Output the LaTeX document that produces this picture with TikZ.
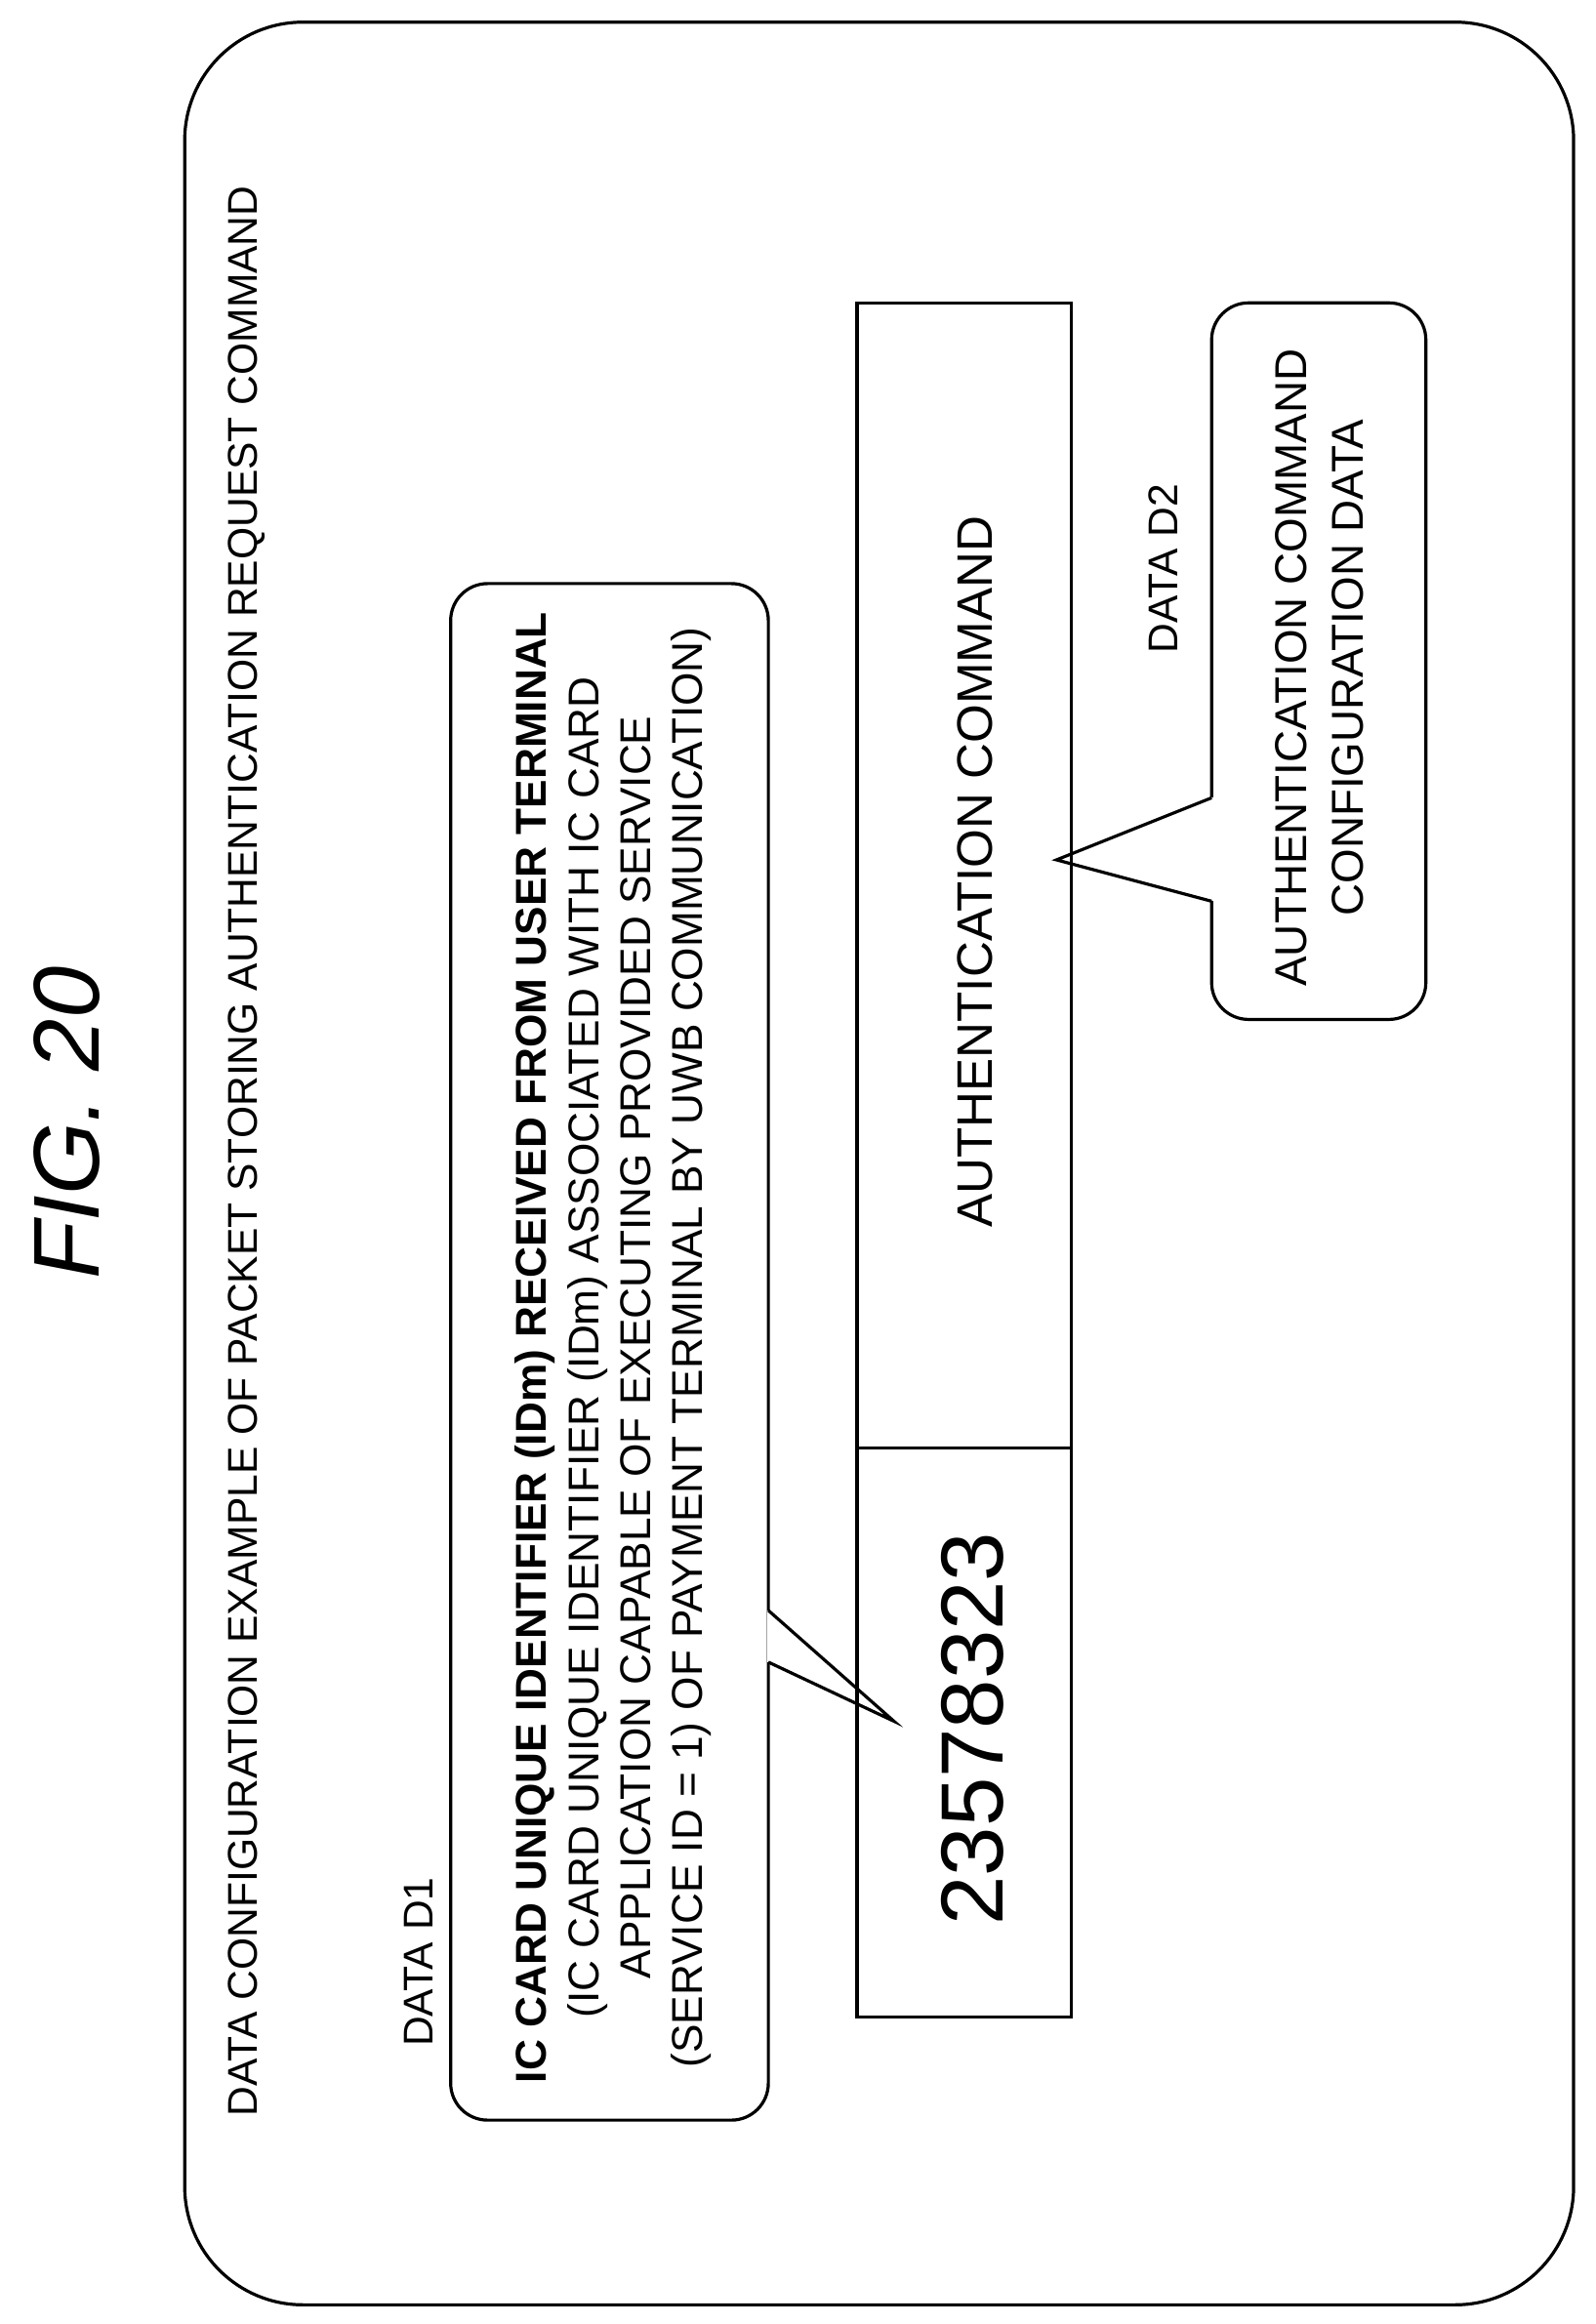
\documentclass[tikz,border=0pt]{standalone}
\usepackage{fontspec}
\setmainfont{Liberation Sans}
\begin{document}
\begin{tikzpicture}[x=0.01cm,y=-0.01cm,
    lbl/.style={rotate=90,font=\fontsize{8}{10}\selectfont},
    callout/.style={draw,line width=0.6pt,rounded corners=0.25cm}]
        \useasboundingbox (0,0) rectangle (1080,1573);
        \draw[line width=0.6pt,rounded corners=0.8cm] (125,15) rectangle (1065,1560);
        \node[rotate=90,font=\fontsize{18}{22}\selectfont\itshape] (fig) at (45,760) {FIG. 20};
        \node[lbl,anchor=south west] (title) at (192,1445) {DATA CONFIGURATION EXAMPLE OF PACKET STORING AUTHENTICATION REQUEST COMMAND};
        % packet
        \draw[line width=0.6pt] (580,205) rectangle (725,1365);
        \draw[line width=0.6pt] (580,980) -- (725,980);
        \node[rotate=90,font=\fontsize{17}{20}\selectfont] (idm) at (658,1170) {23578323};
        \node[lbl,font=\fontsize{9.6}{12}\selectfont] (cmd) at (660,590) {AUTHENTICATION COMMAND};
        % data D1
        \node[lbl] (d1) at (283,1328) {DATA D1};
        \draw[callout] (305,395) rectangle (520,1435);
        \fill[white] (519,1090) rectangle (522,1125);
        \draw[line width=0.6pt] (520,1090) -- (605,1165) -- (520,1125);
        \node[lbl,align=center,font=\fontsize{8.3}{10}\selectfont] (d1txt) at (415,912) {\textbf{IC CARD UNIQUE IDENTIFIER (IDm) RECEIVED FROM USER TERMINAL}\\(IC CARD UNIQUE IDENTIFIER (IDm) ASSOCIATED WITH IC CARD\\APPLICATION CAPABLE OF EXECUTING PROVIDED SERVICE\\(SERVICE ID = 1) OF PAYMENT TERMINAL BY UWB COMMUNICATION)};
        % data D2
        \node[lbl] (d2) at (787,385) {DATA D2};
        \draw[callout] (820,205) rectangle (965,690);
        \fill[white] (818,540) rectangle (822,610);
        \draw[line width=0.6pt] (820,540) -- (715,582) -- (820,610);
        \node[lbl,align=center,font=\fontsize{8.6}{11}\selectfont] (d2txt) at (893,452) {AUTHENTICATION COMMAND\\CONFIGURATION DATA};
    \end{tikzpicture}
\end{document}
